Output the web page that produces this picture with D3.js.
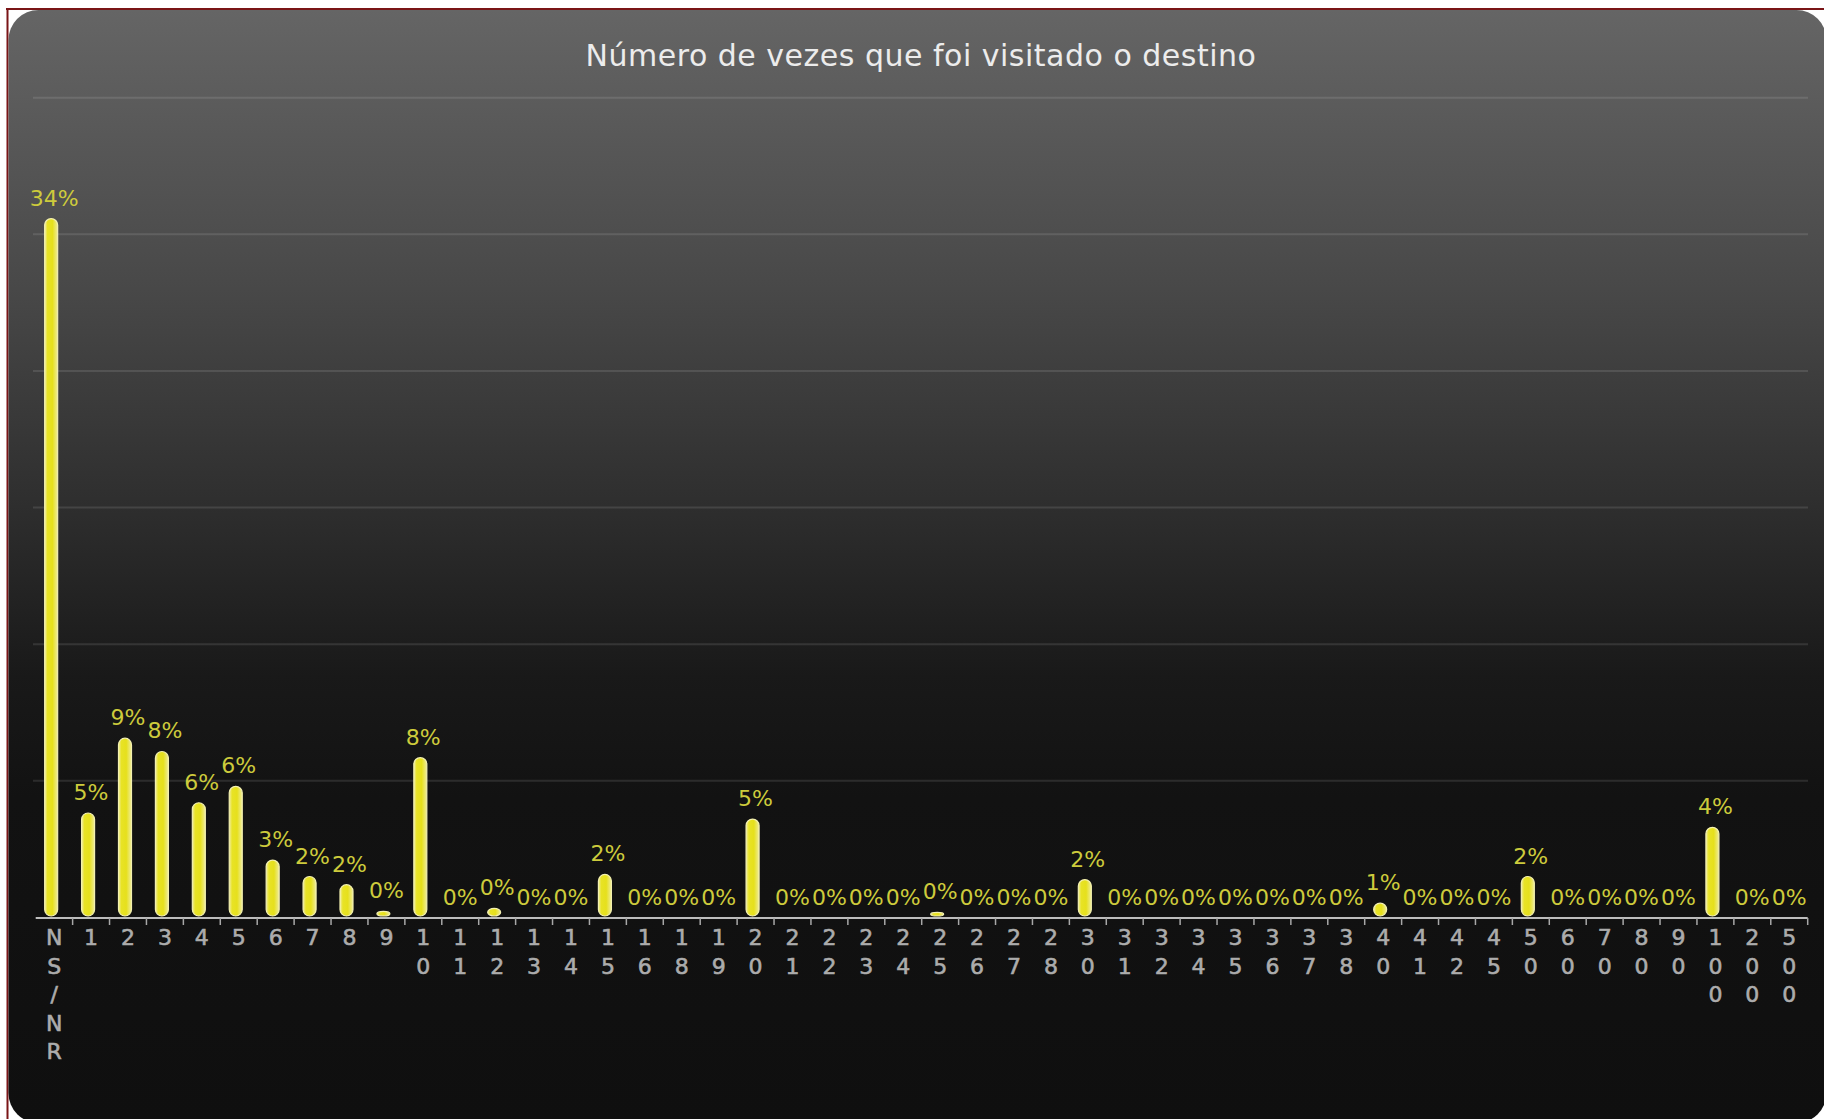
<!DOCTYPE html>
<html>
<head>
<meta charset="utf-8">
<script src="https://cdn.jsdelivr.net/npm/d3@7"></script>
<style>
  html, body { margin: 0; padding: 0; background: #ffffff; }
  svg { display: block; }
</style>
</head>
<body>
<svg id="chart" width="1824" height="1119"></svg>
<script>
// ---- data ----
const title = "Número de vezes que foi visitado o destino";
const categories = ["NS/NR","1","2","3","4","5","6","7","8","9","10","11","12","13","14","15","16","18","19","20",
  "21","22","23","24","25","26","27","28","30","31","32","34","35","36","37","38","40","41","42","45",
  "50","60","70","80","90","100","200","500"];
const percentValues = [34.1,5.1,8.75,8.1,5.6,6.4,2.8,2.0,1.6,0.3,7.8,0,0.45,0,0,2.1,0,0,0,4.8,
  0,0,0,0,0.25,0,0,0,1.85,0,0,0,0,0,0,0,0.7,0,0,0,
  2.0,0,0,0,0,4.4,0,0];
const yMax = 40;
const gridLines = [40/6, 80/6, 20, 160/6, 200/6, 40];

// ---- drawing ----
const svg = d3.select("#chart");
const W = 1824, H = 1119;

const defs = svg.append("defs");
const bg = defs.append("linearGradient").attr("id","bg")
  .attr("gradientUnits","userSpaceOnUse").attr("x1",0).attr("y1",10).attr("x2",0).attr("y2",1120);
[[0,"#656565"],[0.26,"#474747"],[0.44,"#2f2f2f"],[0.6,"#191919"],[0.71,"#121212"],[1,"#0f0f0f"]]
  .forEach(([o,c]) => bg.append("stop").attr("offset",o).attr("stop-color",c));

const barGrad = defs.append("linearGradient").attr("id","barg")
  .attr("x1",0).attr("y1",0).attr("x2",1).attr("y2",0);
[[0,"#f0eda0"],[0.22,"#e8e326"],[0.6,"#e6e01c"],[1,"#efec9a"]]
  .forEach(([o,c]) => barGrad.append("stop").attr("offset",o).attr("stop-color",c));

// outer frame
svg.append("rect").attr("x",0).attr("y",0).attr("width",W).attr("height",H).attr("fill","#ffffff");
svg.append("line").attr("x1",6).attr("x2",W).attr("y1",9).attr("y2",9)
  .attr("stroke","#7a1517").attr("stroke-width",2);
svg.append("line").attr("x1",7.5).attr("x2",7.5).attr("y1",8).attr("y2",H)
  .attr("stroke","#7a1517").attr("stroke-width",2);

// panel
svg.append("rect").attr("x",8.5).attr("y",10).attr("width",1818).attr("height",1113)
  .attr("rx",30).attr("ry",30).attr("fill","url(#bg)");

// scales
const x = d3.scaleBand().domain(categories).range([35.7, 1807.7]).padding(0);
const y = d3.scaleLinear().domain([0, yMax]).range([917.5, 97.7]);

// grid
svg.append("g").selectAll("line").data(gridLines).join("line")
  .attr("x1",33).attr("x2",1808)
  .attr("y1",d=>y(d)).attr("y2",d=>y(d))
  .attr("stroke","rgba(255,255,255,0.11)").attr("stroke-width",2);

// title
svg.append("text").attr("x",921).attr("y",66).attr("text-anchor","middle")
  .attr("font-family","'DejaVu Sans', sans-serif").attr("font-size",30)
  .attr("letter-spacing",0.5).attr("fill","#ececec").text(title);

// bars
const data = categories.map((c,i)=>({c, v: percentValues[i]}));
const bw = 13;
svg.append("g").selectAll("rect").data(data.filter(d=>d.v>0)).join("rect")
  .attr("x", d => x(d.c) + x.bandwidth()/2 - 3 - bw/2)
  .attr("y", d => y(d.v))
  .attr("width", bw)
  .attr("height", d => Math.max(0, y(0) - 1.5 - y(d.v)))
  .attr("rx", bw/2)
  .attr("ry", d => Math.min(bw/2, (y(0) - 1.5 - y(d.v))/2))
  .attr("fill","url(#barg)")
  .attr("stroke","#f3f0b0").attr("stroke-width",1.2);

// value labels
svg.append("g").selectAll("text").data(data).join("text")
  .attr("x", d => x(d.c) + x.bandwidth()/2)
  .attr("y", d => y(d.v) - 13)
  .attr("text-anchor","middle")
  .attr("font-family","'DejaVu Sans', sans-serif").attr("font-size",22)
  .attr("fill","#cdcb3c")
  .text(d => Math.round(d.v) + "%");

// axis
const axisY = y(0) + 0.5;
svg.append("line").attr("x1",35.7).attr("x2",1807.7).attr("y1",axisY).attr("y2",axisY)
  .attr("stroke","#bdbdbd").attr("stroke-width",2);
const bounds = categories.map(c => x(c)).concat([x.range()[1]]);
svg.append("g").selectAll("line").data(bounds.slice(1)).join("line")
  .attr("x1",d=>d).attr("x2",d=>d).attr("y1",axisY).attr("y2",axisY+7)
  .attr("stroke","#a8a8a8").attr("stroke-width",1.5);

// tick labels (vertical stacked characters)
const tl = svg.append("g").selectAll("text").data(categories).join("text")
  .attr("x", d => x(d) + x.bandwidth()/2)
  .attr("y", 945)
  .attr("text-anchor","middle")
  .attr("font-family","'DejaVu Sans', sans-serif").attr("font-size",22)
  .attr("fill","#acacac").attr("stroke","#acacac").attr("stroke-width",0.6);
tl.each(function(d){
  const t = d3.select(this);
  d.split("").forEach((ch,i) => {
    t.append("tspan").attr("x", x(d) + x.bandwidth()/2).attr("y", 945 + i*28.5).text(ch);
  });
});
</script>
</body>
</html>
